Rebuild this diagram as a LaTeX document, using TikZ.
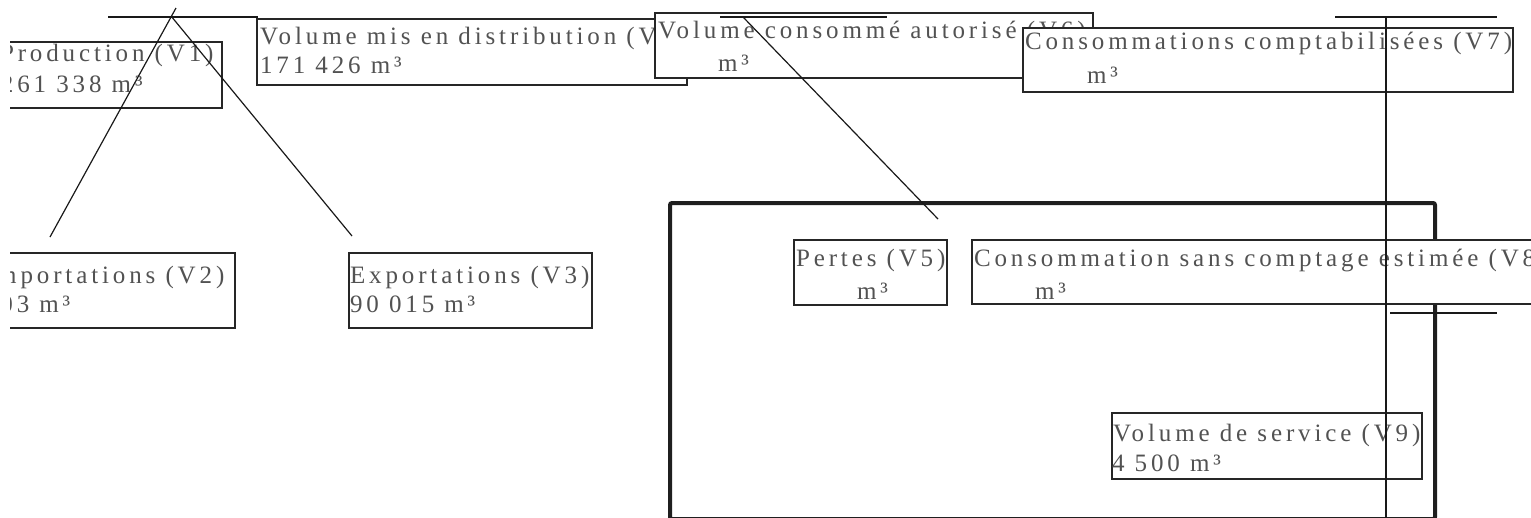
\documentclass[tikz,border=0pt]{standalone}
\usepackage{fontspec}
\setmainfont{Liberation Serif}[LetterSpace=15.5]
\begin{document}
\begin{tikzpicture}[x=1pt,y=-1pt,
  box/.style={draw=black!85, line width=1.3pt, fill=white, rectangle, inner sep=0pt, outer sep=0pt, anchor=north west},
  lbl/.style={anchor=base west, inner sep=0pt, outer sep=0pt, text=black!68, font=\fontsize{25}{29}\selectfont},
  conn/.style={line width=1.2pt, draw=black!90},
  frame/.style={draw=black!88, line width=4pt, rectangle, rounded corners=2pt, inner sep=0pt, outer sep=0pt, anchor=north west},
]
\useasboundingbox (0,0) rectangle (1531,517);
\clip (0,0) rectangle (1531,517);

% big frame
\node[frame, minimum width=765pt, minimum height=316pt] (frame) at (670,203) {};

% left group (clipped at the left margin)
\begin{scope}
  \clip (10,0) rectangle (600,517);
  \node[box, minimum width=232pt, minimum height=66pt] (v1) at (-10,42) {};
  \node[lbl] (v1a) at (0,61) {Production (V1)};
  \node[lbl] (v1b) at (1,92) {261 338 m³};
  \node[box, minimum width=255pt, minimum height=75pt] (v2) at (-20,253) {};
  \node[lbl] (v2a) at (-15,283) {Importations (V2)};
  \node[lbl] (v2b) at (-16,312) {103 m³};
\end{scope}

% exportations
\node[box, minimum width=243pt, minimum height=75pt] (v3) at (349,253) {};
\node[lbl] (v3a) at (350,283) {Exportations (V3)};
\node[lbl] (v3b) at (350,312) {90 015 m³};

% volume mis en distribution
\node[box, minimum width=430pt, minimum height=66pt] (v4) at (257,19) {};
\node[lbl] (v4a) at (260,44) {Volume mis en distribution (V4)};
\node[lbl] (v4b) at (260,73) {171 426 m³};

% volume consomme autorise
\node[box, minimum width=438pt, minimum height=65pt] (v6) at (655,13) {};
\node[lbl] (v6a) at (658,38) {Volume consommé autorisé (V6)};
\node[lbl] (v6b) at (718,71) {m³};

% consommations comptabilisees
\node[box, minimum width=490pt, minimum height=64pt] (v7) at (1023,28) {};
\node[lbl] (v7a) at (1025,49) {Consommations comptabilisées (V7)};
\node[lbl] (v7b) at (1087,83) {m³};

% pertes
\node[box, minimum width=153pt, minimum height=65pt] (v5) at (794,240) {};
\node[lbl] (v5a) at (796,266) {Pertes (V5)};
\node[lbl] (v5b) at (857,299) {m³};

% consommation sans comptage
\node[box, minimum width=600pt, minimum height=64pt] (v8) at (972,240) {};
\node[lbl] (v8a) at (974,266) {Consommation sans comptage estimée (V8)};
\node[lbl] (v8b) at (1035,299) {m³};

% volume de service
\node[box, minimum width=310pt, minimum height=66pt] (v9) at (1112,413) {};
\node[lbl] (v9a) at (1113,441) {Volume de service (V9)};
\node[lbl] (v9b) at (1112,471) {4 500 m³};

% connectors
\coordinate (topL) at (108,17);
\coordinate (topR) at (258,17);
\coordinate (apexA) at (176,8);
\coordinate (impEnd) at (50,237);
\coordinate (apexB) at (171,16);
\coordinate (expEnd) at (352,236);
\coordinate (lossA) at (743,17);
\coordinate (lossB) at (938,219);
\coordinate (vTop) at (1386,17);
\coordinate (vBot) at (1386,520);
\coordinate (h1L) at (1335,17);
\coordinate (h1R) at (1497,17);
\coordinate (h2L) at (1390,313);
\coordinate (h2R) at (1497,313);
\coordinate (h3L) at (720,17);
\coordinate (h3R) at (887,17);

\draw[conn] (topL) -- (topR);
\draw[conn] (apexA) -- (impEnd);
\draw[conn] (apexB) -- (expEnd);
\draw[conn] (lossA) -- (lossB);
\draw[conn] (vTop) -- (vBot);
\draw[conn] (h1L) -- (h1R);
\draw[conn] (h2L) -- (h2R);
\draw[conn] (h3L) -- (h3R);
\end{tikzpicture}
\end{document}
